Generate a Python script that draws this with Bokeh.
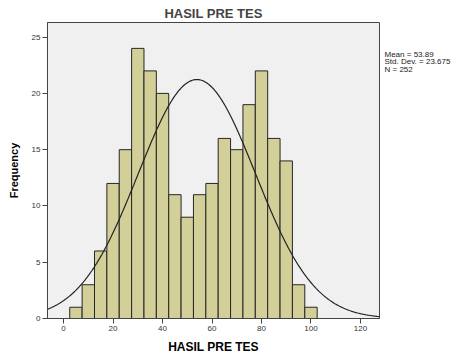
from bokeh.plotting import figure
from bokeh.layouts import row
from bokeh.models import Range1d, FixedTicker
from bokeh.core.properties import value
from bokeh.embed import file_html
from bokeh.resources import INLINE
import numpy as np

# data
bin_centers = [5, 10, 15, 20, 25, 30, 35, 40, 45, 50, 55, 60, 65, 70, 75, 80, 85, 90, 95, 100]
counts = [1, 3, 6, 12, 15, 24, 22, 20, 11, 9, 11, 12, 16, 15, 19, 22, 16, 14, 3, 1]
bin_width = 5
mean_val = 53.89
sd_val = 23.675
n_val = 252
x_ticks = [0, 20, 40, 60, 80, 100, 120]
y_ticks = [0, 5, 10, 15, 20, 25]
stats_lines = ["Mean = 53.89", "Std. Dev. = 23.675", "N = 252"]

FONT = "Liberation Sans"

p = figure(width=380, height=356, output_backend="svg", toolbar_location=None,
           x_range=Range1d(-6.5, 127.7), y_range=Range1d(0, 26.3),
           min_border_left=47, min_border_right=1, min_border_top=22, min_border_bottom=36)
p.title.text = "HASIL PRE TES"
p.title.align = "center"
p.title.text_font = FONT
p.title.text_font_size = "13px"
p.title.text_font_style = "bold"
p.title.standoff = 4
p.title.offset = 0

p.border_fill_color = "white"
p.background_fill_color = "#f0f0f0"
p.outline_line_color = "#444444"
p.outline_line_width = 1
p.xgrid.visible = False
p.ygrid.visible = False

p.vbar(x=bin_centers, top=counts, width=bin_width, bottom=0,
       fill_color="#d3cf98", line_color="#262626", line_width=1)

xs = np.linspace(-6.5, 127.7, 400)
ys = n_val * bin_width * np.exp(-0.5 * ((xs - mean_val) / sd_val) ** 2) / (sd_val * np.sqrt(2 * np.pi))
p.line(xs, ys, line_color="#222222", line_width=1.2)

for ax in (p.xaxis, p.yaxis):
    ax.axis_line_color = "#444444"
    ax.major_tick_line_color = "#444444"
    ax.minor_tick_line_color = None
    ax.major_tick_out = 5
    ax.major_tick_in = 0
    ax.major_label_text_font = FONT
    ax.major_label_text_font_size = "8px"
    ax.major_label_text_color = "#333333"
    ax.axis_label_text_font = FONT
    ax.axis_label_text_font_style = "bold"
    ax.axis_label_text_color = "black"
    ax.major_label_standoff = 2

p.xaxis.ticker = FixedTicker(ticks=x_ticks)
p.yaxis.ticker = FixedTicker(ticks=y_ticks)
p.xaxis.axis_label = "HASIL PRE TES"
p.yaxis.axis_label = "Frequency"
p.xaxis.axis_label_text_font_size = "12px"
p.yaxis.axis_label_text_font_size = "11px"
p.xaxis.axis_label_standoff = 6
p.yaxis.axis_label_standoff = 9

# side panel for statistics text
s = figure(width=73, height=356, output_backend="svg", toolbar_location=None,
           x_range=Range1d(0, 73), y_range=Range1d(356, 0),
           min_border=0, min_border_left=0, min_border_right=0,
           min_border_top=0, min_border_bottom=0)
s.axis.visible = False
s.grid.visible = False
s.outline_line_color = None
s.background_fill_color = "white"
s.border_fill_color = "white"
s.text(x=[4, 4, 4], y=[39, 47.5, 56], text=stats_lines,
       text_font=value(FONT), text_font_size="8px", text_color="#222222",
       text_baseline="middle", text_align="left")

layout = row(p, s, spacing=0)
open("out.html", "w").write(file_html(layout, INLINE))
